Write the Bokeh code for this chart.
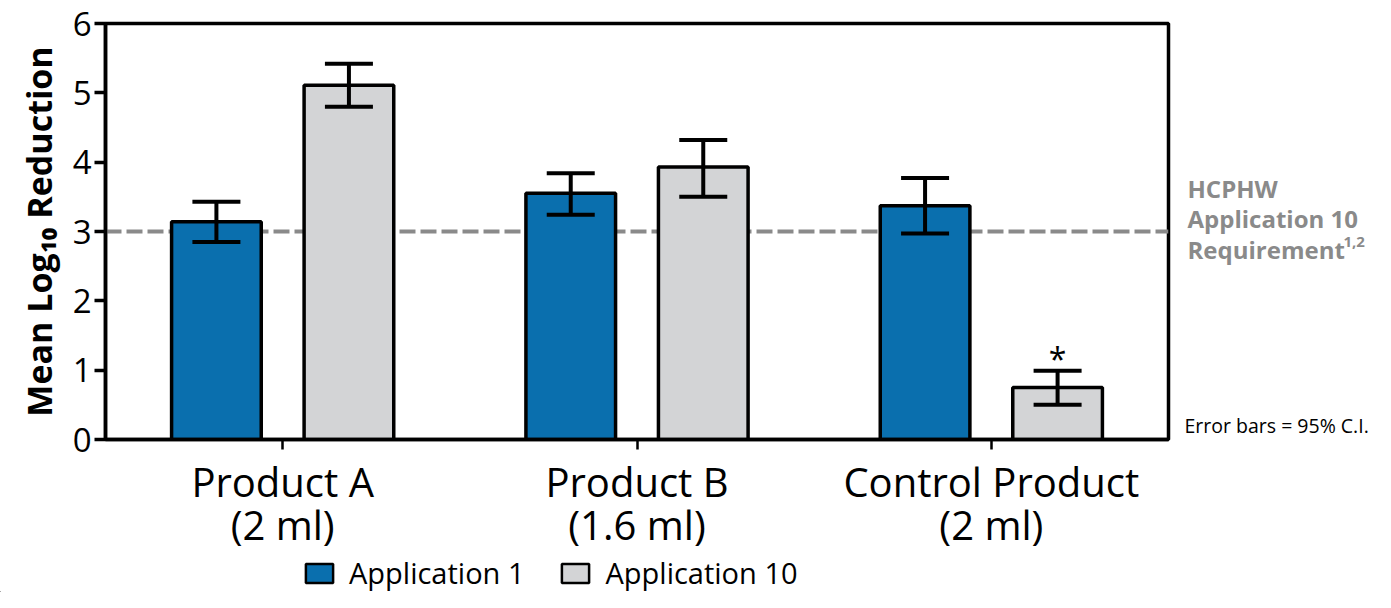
from bokeh.plotting import figure
from bokeh.models import (ColumnDataSource, FactorRange, Range1d, Span, Label, Whisker,
                          Legend, LegendItem, TeeHead)
from bokeh.layouts import column, row
from bokeh.transform import dodge
from bokeh.core.properties import value
from bokeh.embed import file_html
from bokeh.resources import INLINE

products = ["Product A", "Product B", "Control Product"]
doses = ["(2 ml)", "(1.6 ml)", "(2 ml)"]
app1 = [3.14, 3.55, 3.37]
app1_lo = [2.85, 3.24, 2.97]
app1_hi = [3.43, 3.84, 3.77]
app10 = [5.11, 3.93, 0.75]
app10_lo = [4.80, 3.50, 0.50]
app10_hi = [5.42, 4.32, 0.99]
requirement = 3
series_names = ["Application 1", "Application 10"]
significant = [False, False, True]
y_ticks = [0, 1, 2, 3, 4, 5, 6]

FONT = "Open Sans"
BLUE = "#0a6fae"
GRAY = "#d3d4d6"
ANN = "#8a8a8a"
OFF = 0.187
BW = 0.253

groups = [f"{a}\n{b}" for a, b in zip(products, doses)]
src = ColumnDataSource(dict(group=groups, app1=app1, app1_lo=app1_lo, app1_hi=app1_hi,
                            app10=app10, app10_lo=app10_lo, app10_hi=app10_hi))

H_MAIN, H_LEG = 554, 38
TOP, BOT = 23, 103
p = figure(width=1180, height=H_MAIN, x_range=FactorRange(factors=groups, range_padding=0),
           y_range=Range1d(0, 6), output_backend="svg", toolbar_location=None,
           min_border_left=105, min_border_right=12, min_border_top=TOP, min_border_bottom=BOT)

r1 = p.vbar(x=dodge("group", -OFF, range=p.x_range), top="app1", width=BW, source=src,
            fill_color=BLUE, line_color="black", line_width=3.5)
r2 = p.vbar(x=dodge("group", OFF, range=p.x_range), top="app10", width=BW, source=src,
            fill_color=GRAY, line_color="black", line_width=3.5)

for lo, hi, off in [("app1_lo", "app1_hi", -OFF), ("app10_lo", "app10_hi", OFF)]:
    w = Whisker(base=dodge("group", off, range=p.x_range), lower=lo, upper=hi, source=src,
                line_width=4, line_color="black", level="overlay",
                lower_head=TeeHead(size=48, line_width=4, line_color="black"),
                upper_head=TeeHead(size=48, line_width=4, line_color="black"))
    p.add_layout(w)

sig = ColumnDataSource(dict(group=[g for g, s in zip(groups, significant) if s],
                            y=[h for h, s in zip(app10_hi, significant) if s],
                            t=["*" for s in significant if s]))
p.text(x=dodge("group", OFF, range=p.x_range), y="y", text="t", source=sig,
       text_align="center", text_baseline="middle", y_offset=-12,
       text_font=value(FONT), text_font_size="32px", text_color="black")

p.add_layout(Span(location=requirement, dimension="width", line_color=ANN,
                  line_dash="16 5", line_width=4, level="underlay"))

p.xgrid.visible = False
p.ygrid.visible = False
p.outline_line_color = "black"
p.outline_line_width = 3.5
p.outline_line_alpha = 1

p.yaxis.ticker = y_ticks
p.yaxis.minor_tick_line_color = None
p.yaxis.major_tick_out = 11
p.yaxis.major_tick_in = 0
p.yaxis.major_tick_line_width = 3.5
p.yaxis.axis_line_width = 3.5
p.yaxis.major_label_text_font = FONT
p.yaxis.major_label_text_font_size = "33px"
p.yaxis.major_label_text_color = "black"
p.yaxis.major_label_standoff = 3
p.yaxis.axis_label = "Mean Log\u2081\u2080 Reduction"
p.yaxis.axis_label_text_font = FONT
p.yaxis.axis_label_text_font_style = "bold"
p.yaxis.axis_label_text_font_size = "34px"
p.yaxis.axis_label_text_color = "black"
p.yaxis.axis_label_standoff = 8

p.xaxis.axis_line_width = 3.5
p.xaxis.major_tick_out = 10
p.xaxis.major_tick_in = 0
p.xaxis.major_tick_line_width = 2.5
p.xaxis.major_label_text_font = FONT
p.xaxis.major_label_text_font_size = "40px"
p.xaxis.major_label_text_color = "black"
p.xaxis.major_label_text_line_height = 0.79
p.xaxis.major_label_standoff = 4

# right-hand annotation panel sharing the y scale
rp = figure(width=195, height=H_MAIN, x_range=Range1d(0, 195), y_range=p.y_range,
            output_backend="svg", toolbar_location=None,
            min_border_left=0, min_border_right=0, min_border_top=TOP, min_border_bottom=BOT,
            x_axis_location=None, y_axis_location=None)
rp.xgrid.visible = False
rp.ygrid.visible = False
rp.outline_line_color = None
ann_lines = ["HCPHW", "Application 10", "Requirement"]
for i, t in enumerate(ann_lines):
    rp.add_layout(Label(x=7, y=3.67 - i * 0.44, y_offset=-3, text=t, text_font=FONT,
                        text_font_style="bold", text_font_size="24px", text_color=ANN,
                        text_baseline="middle"))
rp.add_layout(Label(x=7 + 156, y=2.79, y_offset=4, text="1,2", text_font=FONT,
                    text_font_style="bold", text_font_size="15px", text_color=ANN,
                    text_baseline="middle"))
rp.add_layout(Label(x=4, y=0.0, y_offset=1, text="Error bars = 95% C.I.",
                    text_font=FONT, text_font_size="19.5px", text_color="black",
                    text_baseline="bottom"))

# legend strip
lp = figure(width=1375, height=H_LEG, x_range=Range1d(0, 1), y_range=Range1d(0, 1),
            output_backend="svg", toolbar_location=None,
            min_border_left=0, min_border_right=0, min_border_top=0, min_border_bottom=0,
            x_axis_location=None, y_axis_location=None)
lp.xgrid.visible = False
lp.ygrid.visible = False
lp.outline_line_color = None
hidden = ColumnDataSource(dict(x=[-5.0], top=[0.0]))
d1 = lp.vbar(x="x", top="top", width=0.01, source=hidden, fill_color=BLUE,
             line_color="black", line_width=2.5)
d2 = lp.vbar(x="x", top="top", width=0.01, source=hidden, fill_color=GRAY,
             line_color="black", line_width=2.5)
legend = Legend(items=[LegendItem(label=series_names[0], renderers=[d1]),
                       LegendItem(label=series_names[1], renderers=[d2])],
                orientation="horizontal", location=(302, 0),
                label_text_font=FONT, label_text_font_size="29px", label_text_color="black",
                glyph_width=34, glyph_height=24, label_standoff=13, spacing=34,
                border_line_color=None, background_fill_alpha=0, padding=0, margin=0)
lp.add_layout(legend, "center")

layout = column(row(p, rp), lp)
open("out.html", "w").write(file_html(layout, INLINE))
